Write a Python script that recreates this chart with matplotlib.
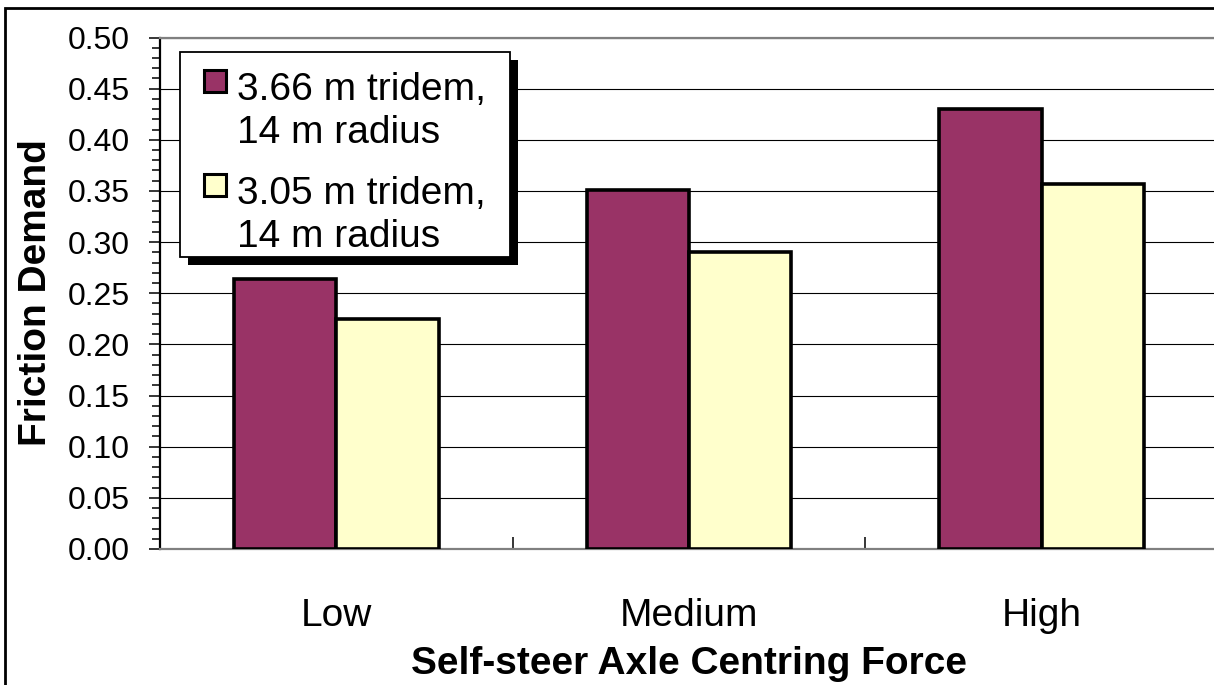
import matplotlib
matplotlib.use("Agg")
import matplotlib.pyplot as plt
from matplotlib.patches import Rectangle
import numpy as np

# ---- data ----
categories = ["Low", "Medium", "High"]
series_names = ["3.66 m tridem,\n14 m radius", "3.05 m tridem,\n14 m radius"]
tridem_366 = [0.264, 0.351, 0.430]
tridem_305 = [0.225, 0.290, 0.357]
series_colors = ["#993366", "#FFFFCC"]
y_ticks = [0.00, 0.05, 0.10, 0.15, 0.20, 0.25, 0.30, 0.35, 0.40, 0.45, 0.50]
x_title = "Self-steer Axle Centring Force"
y_title = "Friction Demand"

W, H = 1214, 685
plt.rcParams["font.family"] = ["Liberation Sans", "DejaVu Sans"]
fig = plt.figure(figsize=(W / 100, H / 100), dpi=100)

def fx(x):
    return x / W

def fy(y):
    return 1 - y / H

# axes: left 160 px, right 1218 px (cut off), top 37.5, bottom 549
ax = fig.add_axes([fx(160), fy(549), (1218 - 160) / W, (549 - 37.5) / H])

x = np.arange(len(categories))
bw = 0.29
ax.bar(x - bw / 2, tridem_366, width=bw, color=series_colors[0], edgecolor="black",
       linewidth=2.6, zorder=3)
ax.bar(x + bw / 2, tridem_305, width=bw, color=series_colors[1], edgecolor="black",
       linewidth=2.6, zorder=3)

ax.set_xlim(-0.5, len(categories) - 0.5)
ax.set_ylim(0, 0.5)
ax.set_yticks(y_ticks)
ax.set_yticklabels([f"{v:.2f}" for v in y_ticks])
ax.set_yticks(np.arange(0, 0.501, 0.01), minor=True)
ax.yaxis.grid(True, which="major", color="black", linewidth=0.8)
ax.set_axisbelow(True)

ax.set_xticks(x)
ax.set_xticklabels(categories)
ax.set_xticks(x[:-1] + 0.5, minor=True)

ax.tick_params(axis="y", which="major", direction="out", length=8, width=1.1,
               labelsize=23, pad=13.5, color="black")
ax.tick_params(axis="y", which="minor", direction="out", length=6, width=1.1,
               color="black")
ax.tick_params(axis="x", which="major", length=0, labelsize=28, pad=35)
ax.tick_params(axis="x", which="minor", direction="in", length=9, width=1.1,
               color="black")

ax.spines["left"].set_color("black")
ax.spines["left"].set_linewidth(1.6)
ax.spines["top"].set_color("#808080")
ax.spines["top"].set_linewidth(1.6)
ax.spines["bottom"].set_color("#808080")
ax.spines["bottom"].set_linewidth(1.6)
ax.spines["right"].set_visible(False)

# axis titles
fig.text(fx(689), fy(674), x_title, ha="center", va="baseline",
         fontsize=28, fontweight="bold")
fig.text(fx(36), fy(293), y_title, ha="center", va="center", rotation=90,
         fontsize=28, fontweight="bold")

# figure border
fig.patches.append(Rectangle((fx(5), fy(H + 20)), (W + 20) / W, (H + 20 - 8) / H,
                             transform=fig.transFigure, fill=False,
                             edgecolor="black", linewidth=2, zorder=0))

# legend (Excel style with shadow)
lx0, ly0, lx1, ly1 = 180, 52, 510, 257
fig.patches.append(Rectangle((fx(lx0 + 8), fy(ly1 + 8)), (lx1 - lx0) / W, (ly1 - ly0) / H,
                             transform=fig.transFigure, facecolor="black",
                             edgecolor="black", linewidth=0, zorder=5))
fig.patches.append(Rectangle((fx(lx0), fy(ly1)), (lx1 - lx0) / W, (ly1 - ly0) / H,
                             transform=fig.transFigure, facecolor="white",
                             edgecolor="black", linewidth=1.3, zorder=6))
entry_tops = [70, 174]
entry_baselines = [(100, 143), (204, 247)]
for name, col, top, (b1, b2) in zip(series_names, series_colors, entry_tops, entry_baselines):
    fig.patches.append(Rectangle((fx(204), fy(top + 22)), 22 / W, 22 / H,
                                 transform=fig.transFigure, facecolor=col,
                                 edgecolor="black", linewidth=2.2, zorder=7))
    l1, l2 = name.split("\n")
    fig.text(fx(237), fy(b1), l1, ha="left", va="baseline", fontsize=28, zorder=8)
    fig.text(fx(237), fy(b2), l2, ha="left", va="baseline", fontsize=28, zorder=8)

fig.savefig("out.png", dpi=100, facecolor="white")
